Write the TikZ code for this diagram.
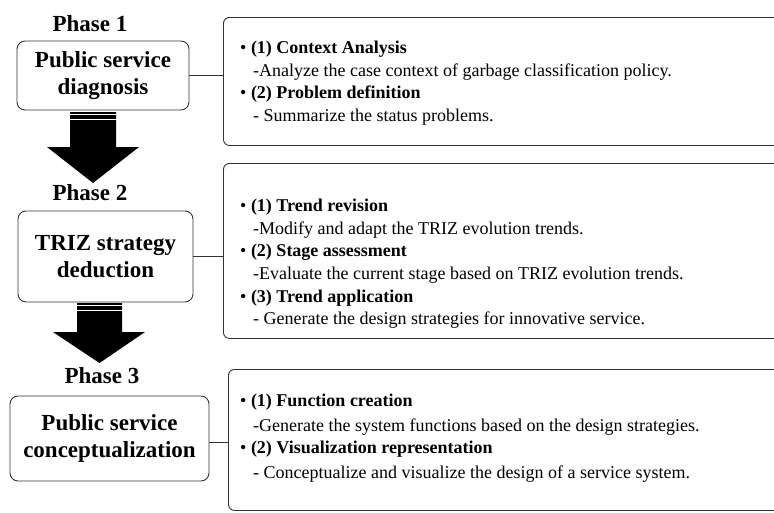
\documentclass[tikz,border=0pt]{standalone}
\usepackage{fontspec}
\setmainfont{Liberation Serif}
\begin{document}
\begin{tikzpicture}[x=1pt,y=-1pt,
  phase/.style={font=\fontsize{23}{27}\selectfont\bfseries, inner sep=0pt},
  lbox/.style={draw=black!80, line width=0.9pt, rounded corners=8pt, align=center,
    font=\fontsize{23}{27}\selectfont\bfseries, inner sep=0pt},
  rbox/.style={draw=black!80, line width=0.9pt, rounded corners=6pt, inner sep=0pt, anchor=north west},
  txt/.style={font=\fontsize{18}{22}\selectfont, anchor=base west, inner sep=0pt},
  conn/.style={draw=black!80, line width=0.9pt},
  bigarrow/.style={fill=black}
]
\clip (0,0) rectangle (774,512);
\useasboundingbox (0,0) rectangle (774,512);

% Phase labels
\node[phase] (p1) at (90,24) {Phase 1};
\node[phase] (p2) at (90,193) {Phase 2};
\node[phase] (p3) at (102,376) {Phase 3};

% Left boxes
\node[lbox, minimum width=172pt, minimum height=69pt] (b1) at (103,75.5) {Public service\\diagnosis};
\node[lbox, minimum width=175pt, minimum height=91pt] (b2) at (105.5,256.5) {TRIZ strategy\\deduction};
\node[lbox, minimum width=199pt, minimum height=85pt] (b3) at (109.5,438.5) {Public service\\conceptualization};

% Right boxes
\node[rbox, minimum width=600pt, minimum height=128pt] (r1) at (223,17) {};
\node[rbox, minimum width=600pt, minimum height=175pt] (r2) at (223,163) {};
\node[rbox, minimum width=600pt, minimum height=141pt] (r3) at (228,369) {};

% Connectors
\draw[conn] (b1.east) -- (b1.east -| r1.west);
\draw[conn] (b2.east) -- (b2.east -| r2.west);
\draw[conn] ([yshift=-3.5pt]b3.east) -- ([yshift=-3.5pt]b3.east -| r3.west);

% Big arrows
\fill[bigarrow] (70,112) -- (116,112) -- (116,147) -- (139,147) -- (93,183) -- (47,147) -- (70,147) -- cycle;
\draw[white, line width=0.9pt] (69,114.8) -- (117,114.8);
\draw[white, line width=0.9pt] (69,119.6) -- (117,119.6);
\fill[bigarrow] (77,303) -- (122,303) -- (122,332) -- (145,332) -- (99.5,363) -- (53,332) -- (77,332) -- cycle;
\draw[white, line width=0.9pt] (76,305.8) -- (123,305.8);
\draw[white, line width=0.9pt] (76,310.6) -- (123,310.6);

% Right box 1 text
\node[txt] (t11) at (240,53) {\textbullet\ \textbf{(1) Context Analysis}};
\node[txt] (t12) at (253,76) {-Analyze the case context of garbage classification policy.};
\node[txt] (t13) at (240,98) {\textbullet\ \textbf{(2) Problem definition}};
\node[txt] (t14) at (253,121) {- Summarize the status problems.};

% Right box 2 text
\node[txt] (t21) at (240,211) {\textbullet\ \textbf{(1) Trend revision}};
\node[txt] (t22) at (253,234) {-Modify and adapt the TRIZ evolution trends.};
\node[txt] (t23) at (240,256) {\textbullet\ \textbf{(2) Stage assessment}};
\node[txt] (t24) at (253,279) {-Evaluate the current stage based on TRIZ evolution trends.};
\node[txt] (t25) at (240,302) {\textbullet\ \textbf{(3) Trend application}};
\node[txt] (t26) at (253,324) {- Generate the design strategies for innovative service.};

% Right box 3 text
\node[txt] (t31) at (240,406) {\textbullet\ \textbf{(1) Function creation}};
\node[txt] (t32) at (253,431) {-Generate the system functions based on the design strategies.};
\node[txt] (t33) at (240,453) {\textbullet\ \textbf{(2) Visualization representation}};
\node[txt] (t34) at (253,478) {- Conceptualize and visualize the design of a service system.};
\end{tikzpicture}
\end{document}
